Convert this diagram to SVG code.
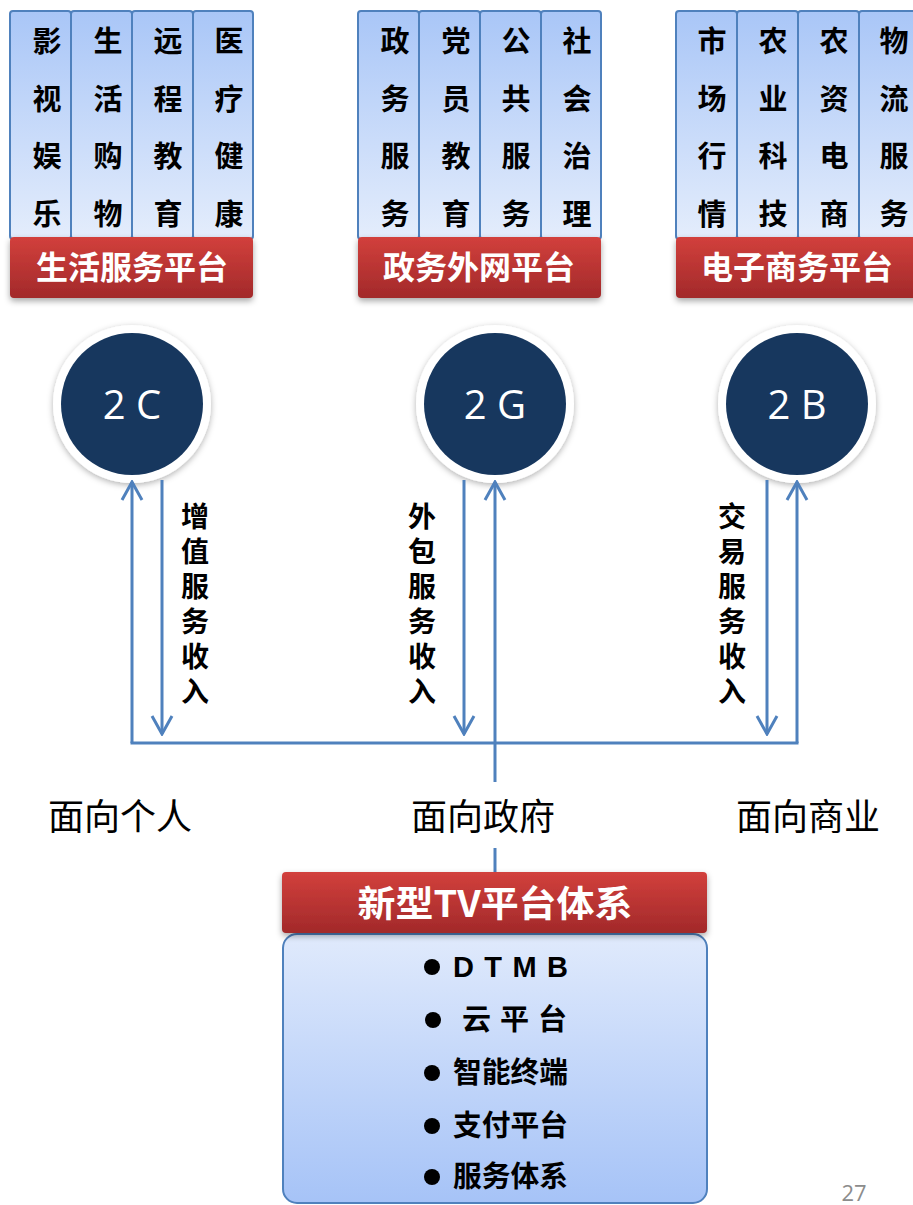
<svg xmlns="http://www.w3.org/2000/svg" width="913" height="1205" viewBox="0 0 913 1205">
<defs>
<linearGradient id="colG" x1="0" y1="0" x2="0" y2="1"><stop offset="0" stop-color="#a9c6f7"/><stop offset="1" stop-color="#e4edfc"/></linearGradient>
<linearGradient id="boxG" x1="0" y1="0" x2="0" y2="1"><stop offset="0" stop-color="#e0eafc"/><stop offset="1" stop-color="#a6c3f7"/></linearGradient>
<linearGradient id="redG" x1="0" y1="0" x2="0" y2="1"><stop offset="0" stop-color="#d2403c"/><stop offset="1" stop-color="#a2292a"/></linearGradient>
<filter id="sh" x="-20%" y="-20%" width="140%" height="150%"><feDropShadow dx="0" dy="3" stdDeviation="3" flood-color="#000" flood-opacity="0.35"/></filter>
<filter id="csh" x="-20%" y="-20%" width="140%" height="140%"><feDropShadow dx="0" dy="2" stdDeviation="3" flood-color="#000" flood-opacity="0.3"/></filter>
<marker id="chev" viewBox="-20 -12 22 24" refX="0" refY="0" markerWidth="22" markerHeight="24" markerUnits="userSpaceOnUse" orient="auto"><path d="M-18,-10 L0,0 L-18,10" fill="none" stroke="#4f81bd" stroke-width="3"/></marker>
</defs>
<style>
.col{fill:url(#colG);stroke:#4f81bd;stroke-width:2}
.red{fill:url(#redG);filter:url(#sh)}
.ct{font-family:"Noto Sans CJK SC",sans-serif;font-weight:bold;font-size:29px;fill:#000;text-anchor:middle}
.rt{font-family:"Noto Sans CJK SC",sans-serif;font-weight:bold;font-size:32px;fill:#fff;text-anchor:middle}
.ring{fill:#fff;filter:url(#csh)}
.dot{fill:#17375e}
.cl{font-family:"Open Sans","Noto Sans",sans-serif;font-size:40px;fill:#fff;text-anchor:middle}
.ln{stroke:#4f81bd;stroke-width:3;fill:none}
.vl{font-family:"Noto Sans CJK SC",sans-serif;font-weight:bold;font-size:28px;fill:#000;writing-mode:vertical-rl;letter-spacing:7px}
.bl{font-family:"Noto Sans CJK SC",sans-serif;font-size:36px;fill:#000;text-anchor:middle}
.it{font-family:"Noto Sans CJK SC",sans-serif;font-weight:bold;font-size:29px;fill:#000}
.itl{font-family:"Liberation Sans",sans-serif;font-weight:bold;font-size:29px;fill:#000}
</style>

<g id="panel-life">
<rect class="col" x="10" y="11" width="61" height="228" rx="3"/>
<rect class="col" x="71" y="11" width="61" height="228" rx="3"/>
<rect class="col" x="132" y="11" width="61" height="228" rx="3"/>
<rect class="col" x="193" y="11" width="60" height="228" rx="3"/>
<text class="ct"><tspan x="47" y="52">影</tspan><tspan x="47" y="110">视</tspan><tspan x="47" y="167">娱</tspan><tspan x="47" y="225">乐</tspan></text>
<text class="ct"><tspan x="108" y="52">生</tspan><tspan x="108" y="110">活</tspan><tspan x="108" y="167">购</tspan><tspan x="108" y="225">物</tspan></text>
<text class="ct"><tspan x="168" y="52">远</tspan><tspan x="168" y="110">程</tspan><tspan x="168" y="167">教</tspan><tspan x="168" y="225">育</tspan></text>
<text class="ct"><tspan x="229" y="52">医</tspan><tspan x="229" y="110">疗</tspan><tspan x="229" y="167">健</tspan><tspan x="229" y="225">康</tspan></text>
<rect class="red" x="10" y="237" width="243" height="61" rx="4"/>
<text class="rt" x="132" y="279">生活服务平台</text>
</g>

<g id="panel-gov">
<rect class="col" x="358" y="11" width="61" height="228" rx="3"/>
<rect class="col" x="419" y="11" width="61" height="228" rx="3"/>
<rect class="col" x="480" y="11" width="61" height="228" rx="3"/>
<rect class="col" x="541" y="11" width="60" height="228" rx="3"/>
<text class="ct"><tspan x="395" y="52">政</tspan><tspan x="395" y="110">务</tspan><tspan x="395" y="167">服</tspan><tspan x="395" y="225">务</tspan></text>
<text class="ct"><tspan x="456" y="52">党</tspan><tspan x="456" y="110">员</tspan><tspan x="456" y="167">教</tspan><tspan x="456" y="225">育</tspan></text>
<text class="ct"><tspan x="516" y="52">公</tspan><tspan x="516" y="110">共</tspan><tspan x="516" y="167">服</tspan><tspan x="516" y="225">务</tspan></text>
<text class="ct"><tspan x="577" y="52">社</tspan><tspan x="577" y="110">会</tspan><tspan x="577" y="167">治</tspan><tspan x="577" y="225">理</tspan></text>
<rect class="red" x="358" y="237" width="243" height="61" rx="4"/>
<text class="rt" x="479" y="279">政务外网平台</text>
</g>

<g id="panel-ecom">
<rect class="col" x="676" y="11" width="61" height="228" rx="3"/>
<rect class="col" x="737" y="11" width="61" height="228" rx="3"/>
<rect class="col" x="798" y="11" width="61" height="228" rx="3"/>
<rect class="col" x="859" y="11" width="61" height="228" rx="3"/>
<text class="ct"><tspan x="712" y="52">市</tspan><tspan x="712" y="110">场</tspan><tspan x="712" y="167">行</tspan><tspan x="712" y="225">情</tspan></text>
<text class="ct"><tspan x="773" y="52">农</tspan><tspan x="773" y="110">业</tspan><tspan x="773" y="167">科</tspan><tspan x="773" y="225">技</tspan></text>
<text class="ct"><tspan x="834" y="52">农</tspan><tspan x="834" y="110">资</tspan><tspan x="834" y="167">电</tspan><tspan x="834" y="225">商</tspan></text>
<text class="ct"><tspan x="894" y="52">物</tspan><tspan x="894" y="110">流</tspan><tspan x="894" y="167">服</tspan><tspan x="894" y="225">务</tspan></text>
<rect class="red" x="676" y="237" width="244" height="61" rx="4"/>
<text class="rt" x="797" y="279">电子商务平台</text>
</g>

<g id="node-2c">
<circle class="ring" cx="132" cy="404" r="79"/>
<circle class="dot" cx="132" cy="404" r="71"/>
<text class="cl" x="132" y="419">2 C</text>
</g>
<g id="node-2g">
<circle class="ring" cx="495" cy="404" r="79"/>
<circle class="dot" cx="495" cy="404" r="71"/>
<text class="cl" x="495" y="419">2 G</text>
</g>
<g id="node-2b">
<circle class="ring" cx="797" cy="404" r="79"/>
<circle class="dot" cx="797" cy="404" r="71"/>
<text class="cl" x="797" y="419">2 B</text>
</g>

<g id="connectors">
<line class="ln" x1="132" y1="743" x2="132" y2="482" marker-end="url(#chev)"/>
<line class="ln" x1="162" y1="480" x2="162" y2="734" marker-end="url(#chev)"/>
<line class="ln" x1="464" y1="480" x2="464" y2="734" marker-end="url(#chev)"/>
<line class="ln" x1="495" y1="782" x2="495" y2="482" marker-end="url(#chev)"/>
<line class="ln" x1="767" y1="480" x2="767" y2="734" marker-end="url(#chev)"/>
<line class="ln" x1="797" y1="743" x2="797" y2="482" marker-end="url(#chev)"/>
<line class="ln" x1="130.5" y1="743" x2="798.5" y2="743"/>
<line class="ln" x1="495" y1="848" x2="495" y2="872"/>
</g>

<g id="label-2c"><text class="vl" x="195" y="502">增值服务收入</text></g>
<g id="label-2g"><text class="vl" x="422" y="502">外包服务收入</text></g>
<g id="label-2b"><text class="vl" x="732" y="502">交易服务收入</text></g>

<g id="bottom-labels">
<text class="bl" x="120" y="830">面向个人</text>
<text class="bl" x="483" y="830">面向政府</text>
<text class="bl" x="808" y="830">面向商业</text>
</g>

<g id="node-tv">
<rect x="283" y="934" width="424" height="269" rx="14" fill="url(#boxG)" stroke="#4f81bd" stroke-width="2"/>
<rect class="red" x="282" y="872" width="425" height="61" rx="4"/>
<text class="rt" x="495" y="917" style="font-size:36px" textLength="275" lengthAdjust="spacingAndGlyphs">新型TV平台体系</text>
<circle cx="432" cy="967" r="8"/>
<text class="itl" x="453" y="977" textLength="115" lengthAdjust="spacing">D T M B</text>
<circle cx="433" cy="1020" r="8"/>
<text class="it" x="462" y="1030" textLength="105" lengthAdjust="spacing">云 平 台</text>
<circle cx="432" cy="1073" r="8"/>
<text class="it" x="453" y="1083" textLength="115" lengthAdjust="spacingAndGlyphs">智能终端</text>
<circle cx="432" cy="1126" r="8"/>
<text class="it" x="453" y="1136" textLength="115" lengthAdjust="spacingAndGlyphs">支付平台</text>
<circle cx="432" cy="1177" r="8"/>
<text class="it" x="453" y="1187" textLength="115" lengthAdjust="spacingAndGlyphs">服务体系</text>
</g>

<text x="854" y="1201" font-family="Open Sans, sans-serif" font-size="22" fill="#8c8c8c" text-anchor="middle">27</text>
</svg>
